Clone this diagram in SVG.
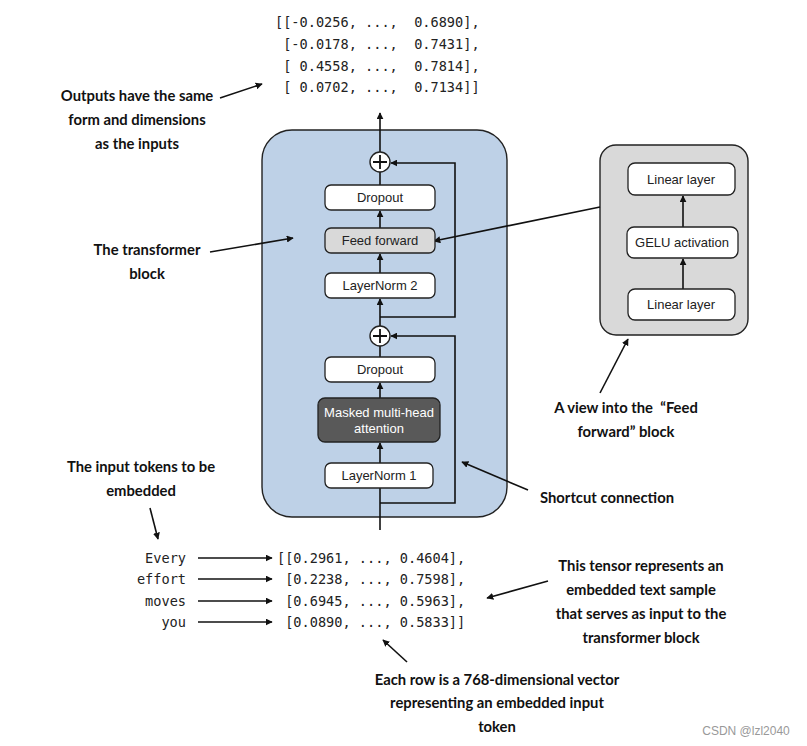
<svg xmlns="http://www.w3.org/2000/svg" width="807" height="746" viewBox="0 0 807 746">
<defs>
<marker id="ah" viewBox="0 0 10 10" refX="9" refY="5" markerWidth="7" markerHeight="7" markerUnits="userSpaceOnUse" orient="auto">
<path d="M0,0 L10,5 L0,10 z" fill="#111"/>
</marker>
</defs>
<style>
.ln{stroke:#111;stroke-width:1.6;fill:none}
.node{fill:#fff;stroke:#222;stroke-width:1.3}
.nt{font-family:"Liberation Sans",Arial,sans-serif;font-size:13px;fill:#222;text-anchor:middle}
.ann{font-family:Lato,"Open Sans",sans-serif;font-weight:bold;font-size:14.8px;fill:#111;text-anchor:middle}
.mono{font-family:"DejaVu Sans Mono","Liberation Mono",monospace;font-size:13.6px;fill:#222}
</style>
<rect width="807" height="746" fill="#fff"/>

<g id="transformer-block">
<rect x="262" y="130" width="245" height="387" rx="30" fill="#bed1e7" stroke="#222" stroke-width="1.4"/>
</g>
<g id="ff-view">
<rect x="600" y="145" width="148" height="190" rx="16" fill="#d9d9d9" stroke="#222" stroke-width="1.4"/>
</g>

<g id="connectors">
<path class="ln" d="M380,152 L380,113" marker-end="url(#ah)"/>
<path class="ln" d="M380,185 L380,172"/>
<path class="ln" d="M380,228 L380,211" marker-end="url(#ah)"/>
<path class="ln" d="M380,273 L380,254" marker-end="url(#ah)"/>
<path class="ln" d="M380,326 L380,299" marker-end="url(#ah)"/>
<path class="ln" d="M380,317 L455,317 L455,163 L391,163" marker-end="url(#ah)"/>
<path class="ln" d="M380,357 L380,346"/>
<path class="ln" d="M380,398 L380,383" marker-end="url(#ah)"/>
<path class="ln" d="M380,463 L380,443" marker-end="url(#ah)"/>
<path class="ln" d="M380,530 L380,488"/>
<path class="ln" d="M380,503 L455,503 L455,336 L391,336" marker-end="url(#ah)"/>
<path class="ln" d="M683,227 L683,196" marker-end="url(#ah)"/>
<path class="ln" d="M683,289 L683,259" marker-end="url(#ah)"/>
<path class="ln" d="M600,207 L434,241" marker-end="url(#ah)"/>
<path class="ln" d="M220,98 L262,84" marker-end="url(#ah)"/>
<path class="ln" d="M210,252 L293,238" marker-end="url(#ah)"/>
<path class="ln" d="M150,508 L158,539" marker-end="url(#ah)"/>
<path class="ln" d="M198,558 L272,558" marker-end="url(#ah)"/>
<path class="ln" d="M198,579 L272,579" marker-end="url(#ah)"/>
<path class="ln" d="M198,601 L272,601" marker-end="url(#ah)"/>
<path class="ln" d="M198,622 L272,622" marker-end="url(#ah)"/>
<path class="ln" d="M548,581 L487,598" marker-end="url(#ah)"/>
<path class="ln" d="M407,662 L383,640" marker-end="url(#ah)"/>
<path class="ln" d="M600,393 L628,339" marker-end="url(#ah)"/>
<path class="ln" d="M528,490 L462,462" marker-end="url(#ah)"/>
</g>

<g id="plus-top">
<circle cx="380" cy="162" r="10" fill="#fff" stroke="#222" stroke-width="1.4"/>
<path d="M373,162 H387 M380,155 V169" stroke="#111" stroke-width="1.8"/>
</g>
<g id="dropout-top">
<rect class="node" x="325" y="185" width="110" height="25" rx="6"/>
<text class="nt" x="380" y="202">Dropout</text>
</g>
<g id="feed-forward">
<rect class="node" x="325" y="228" width="110" height="25" rx="6" style="fill:#d9d9d9"/>
<text class="nt" x="380" y="245">Feed forward</text>
</g>
<g id="layernorm2">
<rect class="node" x="325" y="273" width="110" height="25" rx="6"/>
<text class="nt" x="380" y="290">LayerNorm 2</text>
</g>
<g id="plus-bottom">
<circle cx="380" cy="336" r="10" fill="#fff" stroke="#222" stroke-width="1.4"/>
<path d="M373,336 H387 M380,329 V343" stroke="#111" stroke-width="1.8"/>
</g>
<g id="dropout-bottom">
<rect class="node" x="325" y="357" width="110" height="25" rx="6"/>
<text class="nt" x="380" y="374">Dropout</text>
</g>
<g id="mha">
<rect class="node" x="318" y="398" width="122" height="44" rx="7" style="fill:#595959"/>
<text class="nt" x="379" y="417" style="fill:#fff">Masked multi-head</text>
<text class="nt" x="379" y="433" style="fill:#fff">attention</text>
</g>
<g id="layernorm1">
<rect class="node" x="325" y="463" width="108" height="25" rx="6"/>
<text class="nt" x="379" y="480">LayerNorm 1</text>
</g>

<g id="linear-top">
<rect class="node" x="628" y="163" width="107" height="32" rx="7"/>
<text class="nt" x="681" y="184">Linear layer</text>
</g>
<g id="gelu">
<rect class="node" x="627" y="227" width="111" height="31" rx="7"/>
<text class="nt" x="682" y="247">GELU activation</text>
</g>
<g id="linear-bottom">
<rect class="node" x="628" y="289" width="107" height="31" rx="7"/>
<text class="nt" x="681" y="309">Linear layer</text>
</g>

<g id="output-tensor">
<text class="mono" x="275" y="27" xml:space="preserve">[[-0.0256, ...,  0.6890],</text>
<text class="mono" x="275" y="49" xml:space="preserve"> [-0.0178, ...,  0.7431],</text>
<text class="mono" x="275" y="71" xml:space="preserve"> [ 0.4558, ...,  0.7814],</text>
<text class="mono" x="275" y="92" xml:space="preserve"> [ 0.0702, ...,  0.7134]]</text>
</g>
<g id="input-tokens">
<text class="mono" x="186" y="563" text-anchor="end">Every</text>
<text class="mono" x="186" y="584" text-anchor="end">effort</text>
<text class="mono" x="186" y="606" text-anchor="end">moves</text>
<text class="mono" x="186" y="627" text-anchor="end">you</text>
</g>
<g id="input-tensor">
<text class="mono" x="277" y="563" xml:space="preserve">[[0.2961, ..., 0.4604],</text>
<text class="mono" x="277" y="584" xml:space="preserve"> [0.2238, ..., 0.7598],</text>
<text class="mono" x="277" y="606" xml:space="preserve"> [0.6945, ..., 0.5963],</text>
<text class="mono" x="277" y="627" xml:space="preserve"> [0.0890, ..., 0.5833]]</text>
</g>

<g id="annotations">
<text class="ann" x="137" y="101">Outputs have the same</text>
<text class="ann" x="137" y="125">form and dimensions</text>
<text class="ann" x="137" y="149">as the inputs</text>
<text class="ann" x="147" y="255">The transformer</text>
<text class="ann" x="147" y="279">block</text>
<text class="ann" x="141" y="472">The input tokens to be</text>
<text class="ann" x="141" y="496">embedded</text>
<text class="ann" x="626" y="413" xml:space="preserve">A view into the  “Feed</text>
<text class="ann" x="626" y="437">forward” block</text>
<text class="ann" x="607" y="503">Shortcut connection</text>
<text class="ann" x="641" y="571">This tensor represents an</text>
<text class="ann" x="641" y="595">embedded text sample</text>
<text class="ann" x="641" y="619">that serves as input to the</text>
<text class="ann" x="641" y="643">transformer block</text>
<text class="ann" x="497" y="685">Each row is a 768-dimensional vector</text>
<text class="ann" x="497" y="708">representing an embedded input</text>
<text class="ann" x="497" y="732">token</text>
</g>
<text x="746" y="735" text-anchor="middle" font-family="Liberation Sans,Arial,sans-serif" font-size="12" fill="#999">CSDN @lzl2040</text>
</svg>
